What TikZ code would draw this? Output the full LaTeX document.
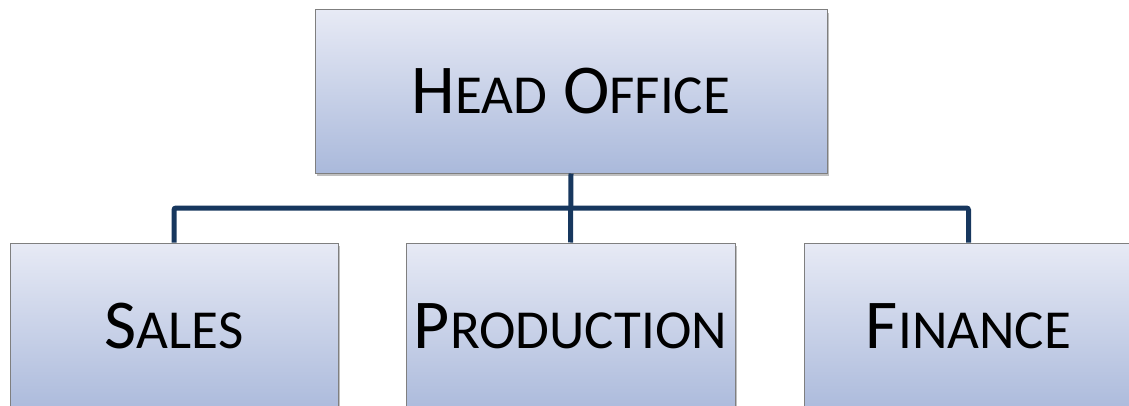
\documentclass[tikz,border=0pt]{standalone}
\usepackage{fontspec}
\setmainfont{Carlito}
\usetikzlibrary{shadows,calc}
\definecolor{boxtop}{HTML}{E7EAF5}
\definecolor{boxbot}{HTML}{AAB9DB}
\definecolor{boxline}{HTML}{7F7F7F}
\definecolor{conn}{HTML}{17375E}
\newcommand\fakesc[2]{#1{\fontsize{55}{60}\selectfont #2}}
\tikzset{
  orgbox/.style={draw=boxline, line width=1pt, top color=boxtop, bottom color=boxbot,
    minimum height=163pt, inner sep=0pt, font=\fontsize{70}{80}\selectfont,
    drop shadow={shadow xshift=1.5pt, shadow yshift=-3pt, opacity=0.25, fill=black}},
  lowbox/.style={orgbox, minimum height=172pt, text depth=0pt},
  link/.style={draw=conn, line width=5pt}
}
\begin{document}
\begin{tikzpicture}[x=1pt,y=1pt]
\useasboundingbox (0,0) rectangle (1129,405);
\node[orgbox, minimum width=512pt] (head) at (571,313.5) {\fakesc{H}{EAD} \fakesc{O}{FFICE}};
\node[lowbox, minimum width=328pt] (sales) at (174,76) {\raisebox{6pt}{\fakesc{S}{ALES}}};
\node[lowbox, minimum width=329pt] (prod) at (570.5,76) {\raisebox{6pt}{\fakesc{P}{RODUCTION}}};
\node[lowbox, minimum width=329pt] (fin) at (968.5,76) {\raisebox{6pt}{\fakesc{F}{INANCE}}};
\coordinate (bus) at ($(head.south)!0.5!(prod.north)$);
\draw[link] (head.south) -- (prod.north);
\draw[link, rounded corners=2pt] (sales.north) |- (bus) -| (fin.north);
\end{tikzpicture}
\end{document}
